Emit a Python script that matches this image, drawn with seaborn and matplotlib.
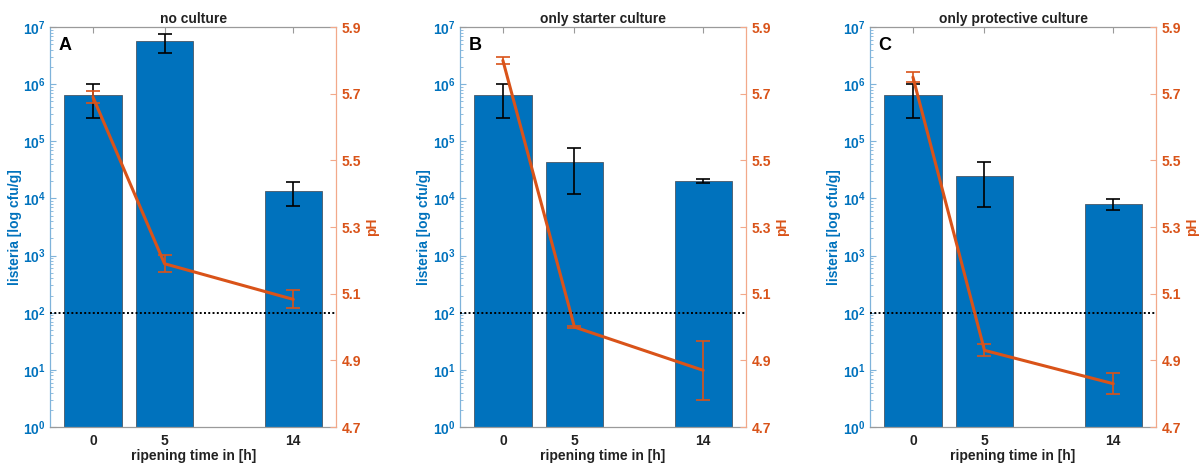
import matplotlib
matplotlib.use("Agg")
import matplotlib.pyplot as plt
import matplotlib.ticker as mticker
import numpy as np
import pandas as pd
import seaborn as sns

# ripening time points [h]
hours = [0, 5, 14]

titles = ["no culture", "only starter culture", "only protective culture"]
letters = ["A", "B", "C"]

# Listeria counts [cfu/g] (mean and standard deviation)
listeria_none = [6.4e5, 5.6e6, 1.33e4]
listeria_none_err = [3.8e5, 2.1e6, 5.8e3]
listeria_starter = [6.4e5, 4.4e4, 2.05e4]
listeria_starter_err = [3.8e5, 3.2e4, 1.5e3]
listeria_protective = [6.4e5, 2.5e4, 8.0e3]
listeria_protective_err = [3.8e5, 1.8e4, 1.8e3]

# pH (mean and standard deviation)
ph_none = [5.69, 5.19, 5.083]
ph_none_err = [0.018, 0.025, 0.027]
ph_starter = [5.80, 5.00, 4.87]
ph_starter_err = [0.01, 0.003, 0.088]
ph_protective = [5.75, 4.93, 4.83]
ph_protective_err = [0.014, 0.018, 0.032]

detection_limit = 100

listeria_ticks = [1e0, 1e1, 1e2, 1e3, 1e4, 1e5, 1e6, 1e7]
listeria_tick_labels = [r"$\mathdefault{10^{%d}}$" % k for k in range(8)]
ph_ticks = [4.7, 4.9, 5.1, 5.3, 5.5, 5.7, 5.9]
ph_tick_labels = ["4.7", "4.9", "5.1", "5.3", "5.5", "5.7", "5.9"]

listeria_sets = [
    (listeria_none, listeria_none_err),
    (listeria_starter, listeria_starter_err),
    (listeria_protective, listeria_protective_err),
]
ph_sets = [
    (ph_none, ph_none_err),
    (ph_starter, ph_starter_err),
    (ph_protective, ph_protective_err),
]

BLUE = "#0072BD"
ORANGE = "#D95319"
BLUE_SPINE = "#7FB3DA"
ORANGE_SPINE = "#F2A98A"
GREY = "#9a9a9a"
TEXT = "#222222"
FS = 10

sns.set_style("white")
plt.rcParams["font.family"] = ["Liberation Sans", "DejaVu Sans"]
plt.rcParams["font.weight"] = "bold"
plt.rcParams["axes.labelweight"] = "bold"

fig = plt.figure(figsize=(12, 4.65), dpi=100)
lefts = [0.0417, 0.3833, 0.725]
width, bottom, height = 0.2385, 0.0817, 0.860

for i in range(3):
    ax = fig.add_axes([lefts[i], bottom, width, height])
    vals, errs = listeria_sets[i]
    df = pd.DataFrame({"hours": hours, "listeria": vals})
    ax.set_yscale("log")
    sns.barplot(data=df, x="hours", y="listeria", native_scale=True,
                width=0.8, color=BLUE, saturation=1, errorbar=None,
                edgecolor="#4a5866", linewidth=0.6, ax=ax)
    ax.errorbar(hours, vals, yerr=errs, fmt="none", ecolor="black",
                elinewidth=1.2, capsize=5, capthick=1.2, zorder=5)
    ax.axhline(detection_limit, color="black", linestyle=(0, (1, 1.2)),
               linewidth=1.4, zorder=6)

    ax.set_xlim(-3, 17)
    ax.set_ylim(1, 1e7)
    ax.set_xticks(hours)
    ax.set_xticklabels([str(h) for h in hours])
    ax.set_yticks(listeria_ticks)
    ax.set_yticklabels(listeria_tick_labels)
    ax.yaxis.set_minor_locator(mticker.LogLocator(base=10, subs=np.arange(2, 10), numticks=20))
    ax.yaxis.set_minor_formatter(mticker.NullFormatter())
    ax.tick_params(axis="x", direction="in", length=4, width=0.8, color=GREY,
                   top=True, bottom=True, labelcolor=TEXT, labelsize=FS, pad=5)
    ax.tick_params(axis="y", which="major", direction="in", length=4, width=0.8,
                   color=BLUE_SPINE, labelcolor=BLUE, labelsize=FS, pad=3)
    ax.tick_params(axis="y", which="minor", direction="in", length=2, width=0.6,
                   color=BLUE_SPINE)
    for lab in ax.get_xticklabels() + ax.get_yticklabels():
        lab.set_fontweight("bold")

    ax.spines["left"].set_color(BLUE_SPINE)
    ax.spines["top"].set_color(GREY)
    ax.spines["bottom"].set_color(GREY)
    ax.spines["right"].set_visible(False)
    for s in ax.spines.values():
        s.set_linewidth(0.9)

    ax.set_xlabel("ripening time in [h]", fontsize=FS, color=TEXT,
                  fontweight="bold", labelpad=1)
    ax.set_ylabel("listeria [log cfu/g]", fontsize=FS, color=BLUE,
                  fontweight="bold", labelpad=1)
    ax.set_title(titles[i], fontsize=FS, fontweight="bold", color=TEXT, pad=3)
    ax.text(0.03, 0.975, letters[i], transform=ax.transAxes, fontsize=13,
            fontweight="bold", color="black", va="top", ha="left")

    # pH on the right-hand axis
    ax2 = ax.twinx()
    pvals, perrs = ph_sets[i]
    pdf = pd.DataFrame({"hours": hours, "pH": pvals})
    sns.lineplot(data=pdf, x="hours", y="pH", color=ORANGE, linewidth=2.2,
                 ax=ax2, zorder=7)
    ax2.errorbar(hours, pvals, yerr=perrs, fmt="none", ecolor=ORANGE,
                 elinewidth=1.2, capsize=5, capthick=1.2, zorder=8)
    ax2.set_ylim(4.7, 5.9)
    ax2.set_xlim(-3, 17)
    ax2.set_yticks(ph_ticks)
    ax2.set_yticklabels(ph_tick_labels)
    ax2.tick_params(axis="y", direction="in", length=4, width=0.8,
                    color=ORANGE_SPINE, labelcolor=ORANGE, labelsize=FS, pad=4)
    for lab in ax2.get_yticklabels():
        lab.set_fontweight("bold")
    ax2.set_xlabel("")
    ax2.set_ylabel("pH", fontsize=FS, color=ORANGE, fontweight="bold", labelpad=3)
    for side in ["left", "top", "bottom"]:
        ax2.spines[side].set_visible(False)
    ax2.spines["right"].set_color(ORANGE_SPINE)
    ax2.spines["right"].set_linewidth(0.9)
    ax2.grid(False)
    ax.grid(False)

fig.savefig("out.png", dpi=100)
